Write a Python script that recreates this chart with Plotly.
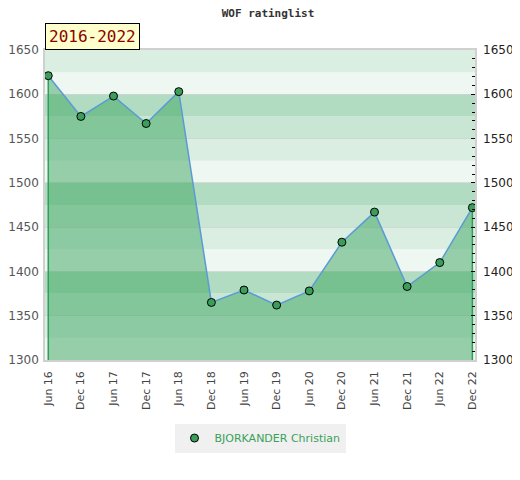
import plotly.graph_objects as go

# rating history, half-year snapshots
periods = ['Jun 16', 'Dec 16', 'Jun 17', 'Dec 17', 'Jun 18', 'Dec 18', 'Jun 19',
           'Dec 19', 'Jun 20', 'Dec 20', 'Jun 21', 'Dec 21', 'Jun 22', 'Dec 22']
ratings = [1621, 1575, 1598, 1567, 1603, 1365, 1379, 1362, 1378, 1433, 1467, 1383, 1410, 1472]
player = 'BJORKANDER Christian'
span_label = '2016-2022'

y_min, y_max = 1300, 1650
band_step = 25
band_colors = ['#eef7f1', '#dbeee2', '#c8e6d3', '#b2dcc1']

fill_green = 'rgba(60,165,98,0.5)'
edge_green = '#2ea05a'
marker_green = '#3a9d5a'
line_blue = '#5b9bd5'

fig = go.Figure()

fig.add_trace(go.Scatter(x=periods, y=ratings, mode='lines', fill='tozeroy', fillcolor=fill_green,
                         line=dict(color=line_blue, width=1.5), showlegend=False))

# green vertical edges of the filled area
for i in (0, len(periods) - 1):
    fig.add_trace(go.Scatter(x=[periods[i], periods[i]], y=[y_min, ratings[i]], mode='lines',
                             line=dict(color=edge_green, width=1.5), showlegend=False, hoverinfo='skip'))

fig.add_trace(go.Scatter(x=periods, y=ratings, mode='markers', name=player, yaxis='y2',
                         marker=dict(color=marker_green, size=8, line=dict(color='black', width=1))))

# striped background
shapes = []
lo = y_min
k = 0
while lo < y_max:
    shapes.append(dict(type='rect', xref='paper', yref='y', x0=0, x1=1, y0=lo, y1=lo + band_step,
                       fillcolor=band_colors[k % 4], line=dict(width=0), layer='below'))
    lo += band_step
    k += 1

fig.update_layout(
    width=520, height=480,
    margin=dict(l=37, r=53, t=42, b=128),
    paper_bgcolor='white', plot_bgcolor='white',
    title=dict(text='<b>WOF ratinglist</b>', x=0.5, xanchor='center', y=0.99, yanchor='middle',
               font=dict(family='DejaVu Sans Mono', size=11, color='#333333')),
    shapes=shapes,
    showlegend=True,
    legend=dict(orientation='h', x=0.5, xanchor='center', y=-0.205, yanchor='top',
                bgcolor='#f0f0f0', font=dict(family='DejaVu Sans', size=11, color='#3aa05a'),
                itemwidth=30, tracegroupgap=0),
    xaxis=dict(type='category', categoryorder='array', categoryarray=periods,
               range=[-0.1, len(periods) - 0.92], tickangle=-90, automargin=False,
               ticklabelstandoff=5,
               showgrid=False, showline=True, linecolor='#d0d0d0', mirror=True, linewidth=1.5,
               tickfont=dict(family='DejaVu Sans', size=11, color='#444444'), ticks=''),
    yaxis=dict(range=[y_min, y_max], dtick=50, showgrid=True, gridcolor='rgba(200,200,200,0.6)',
               showline=True, linecolor='#d0d0d0', mirror=True, linewidth=1.5, zeroline=False,
               automargin=False, ticklabelstandoff=2,
               tickfont=dict(family='DejaVu Sans', size=12, color='#555555'), ticks=''),
    yaxis2=dict(overlaying='y', side='right', matches='y', range=[y_min, y_max], dtick=50,
                showgrid=False, zeroline=False, ticks='inside', ticklen=4, tickcolor='black',
                automargin=False, ticklabelstandoff=7,
                minor=dict(dtick=10, ticks='inside', ticklen=3, tickcolor='black'),
                tickfont=dict(family='DejaVu Sans', size=12, color='#222222')),
    annotations=[dict(text=span_label, xref='paper', yref='paper', x=0, y=1, xanchor='left',
                      yanchor='bottom', showarrow=False, bgcolor='#ffffcc', bordercolor='black',
                      borderwidth=1, borderpad=3,
                      font=dict(family='DejaVu Sans Mono', size=16, color='#8b0000'))],
)

fig.write_html('out.html')
